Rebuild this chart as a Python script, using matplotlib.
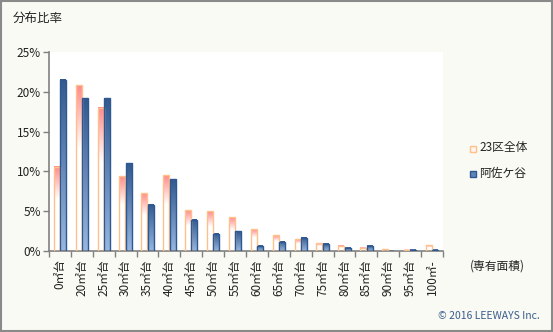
import numpy as np
import matplotlib.pyplot as plt
from matplotlib.patches import Rectangle
from matplotlib.colors import to_rgb

plt.rcParams['font.family'] = ['Noto Sans CJK JP', 'DejaVu Sans']

# floor-area bands and share of units (%)
categories = ['0㎡台', '20㎡台', '25㎡台', '30㎡台', '35㎡台', '40㎡台', '45㎡台',
              '50㎡台', '55㎡台', '60㎡台', '65㎡台', '70㎡台', '75㎡台', '80㎡台',
              '85㎡台', '90㎡台', '95㎡台', '100㎡-']
ward_total = [10.6, 20.8, 18.0, 9.4, 7.25, 9.5, 5.1, 5.0, 4.25, 2.75, 2.0,
              1.5, 1.0, 0.65, 0.4, 0.25, 0.15, 0.75]
asagaya = [21.5, 19.2, 19.2, 11.0, 5.8, 9.0, 3.9, 2.15, 2.5, 0.65, 1.15,
           1.65, 0.9, 0.4, 0.65, 0.05, 0.15, 0.15]
yticks = [0, 5, 10, 15, 20, 25]

bg = '#f8faf3'
pink_top, pink_edge = '#ff8c8c', '#ffc18a'
blue_top, blue_bot, blue_edge = '#33598f', '#97b6e0', '#2d5890'

fig = plt.figure(figsize=(5.53, 3.32), dpi=100, facecolor=bg)
ax = fig.add_axes([49 / 553, 81 / 332, 394 / 553, 199 / 332])
ax.set_facecolor('white')


def gradient_bar(x0, w, h, top, bottom, edge, fade=1.0):
    # vertical colour ramp clipped to the bar rectangle
    n = 64
    t = np.linspace(0, 1, n)  # 0 bottom, 1 top
    k = np.clip((t - (1 - fade)) / fade, 0, 1)[:, None]
    c = np.array(to_rgb(bottom)) * (1 - k) + np.array(to_rgb(top)) * k
    ax.imshow(c[:, None, :], extent=[x0, x0 + w, 0, h], origin='lower',
              aspect='auto', interpolation='bilinear', zorder=2)
    ax.add_patch(Rectangle((x0, 0), w, h, fill=False, edgecolor=edge,
                           linewidth=1.0, zorder=3))


x = np.arange(len(categories))
w = 0.27
for i in x:
    gradient_bar(i - w - 0.01, w, ward_total[i], pink_top, '#ffffff', pink_edge, fade=0.38)
    gradient_bar(i + 0.01, w, asagaya[i], blue_top, blue_bot, blue_edge)

ax.set_xlim(-0.5, len(categories) - 0.5)
ax.set_ylim(0, 25)

ax.set_yticks(yticks)
ax.set_yticklabels([f'{v}%' for v in yticks], fontsize=8.5, color='#222222')
ax.set_xticks(x)
ax.set_xticklabels(categories, rotation=90, fontsize=8.5, color='#222222')
ax.set_xticks(np.arange(len(categories) + 1) - 0.5, minor=True)
ax.tick_params(axis='x', which='major', length=0, pad=6)
ax.tick_params(axis='x', which='minor', length=4, color='#808080', width=1)
ax.tick_params(axis='y', length=4, color='#808080', width=1, pad=2)

for s in ['top', 'right']:
    ax.spines[s].set_visible(False)
for s in ['left', 'bottom']:
    ax.spines[s].set_color('#808080')
    ax.spines[s].set_linewidth(1.2)

fig.text(13 / 553, 1 - 18 / 332, '分布比率', fontsize=9, va='center', color='#222222')
fig.text(470 / 553, 1 - 266 / 332, '(専有面積)', fontsize=8.5, va='center', color='#222222')
fig.text(540 / 553, 1 - 316 / 332, '© 2016 LEEWAYS Inc.', fontsize=7.5, va='center',
         ha='right', color='#3a5c8c')

# legend
fig.patches.append(Rectangle((470 / 553, 1 - 152 / 332), 6 / 553, 6 / 332,
                             transform=fig.transFigure, facecolor='#fff4f0',
                             edgecolor=pink_edge, linewidth=1))
fig.text(479 / 553, 1 - 148 / 332, '23区全体', fontsize=8.5, va='center', color='#222222')
fig.patches.append(Rectangle((470 / 553, 1 - 177 / 332), 6 / 553, 6 / 332,
                             transform=fig.transFigure, facecolor='#5f84b8',
                             edgecolor=blue_edge, linewidth=1))
fig.text(479 / 553, 1 - 173 / 332, '阿佐ケ谷', fontsize=8.5, va='center', color='#222222')

# outer frame
fig.patches.append(Rectangle((0.001, 0.002), 0.997, 0.995, transform=fig.transFigure,
                             fill=False, edgecolor='#8a8a8a', linewidth=1.5))

fig.savefig('out.png', dpi=100, facecolor=bg)
